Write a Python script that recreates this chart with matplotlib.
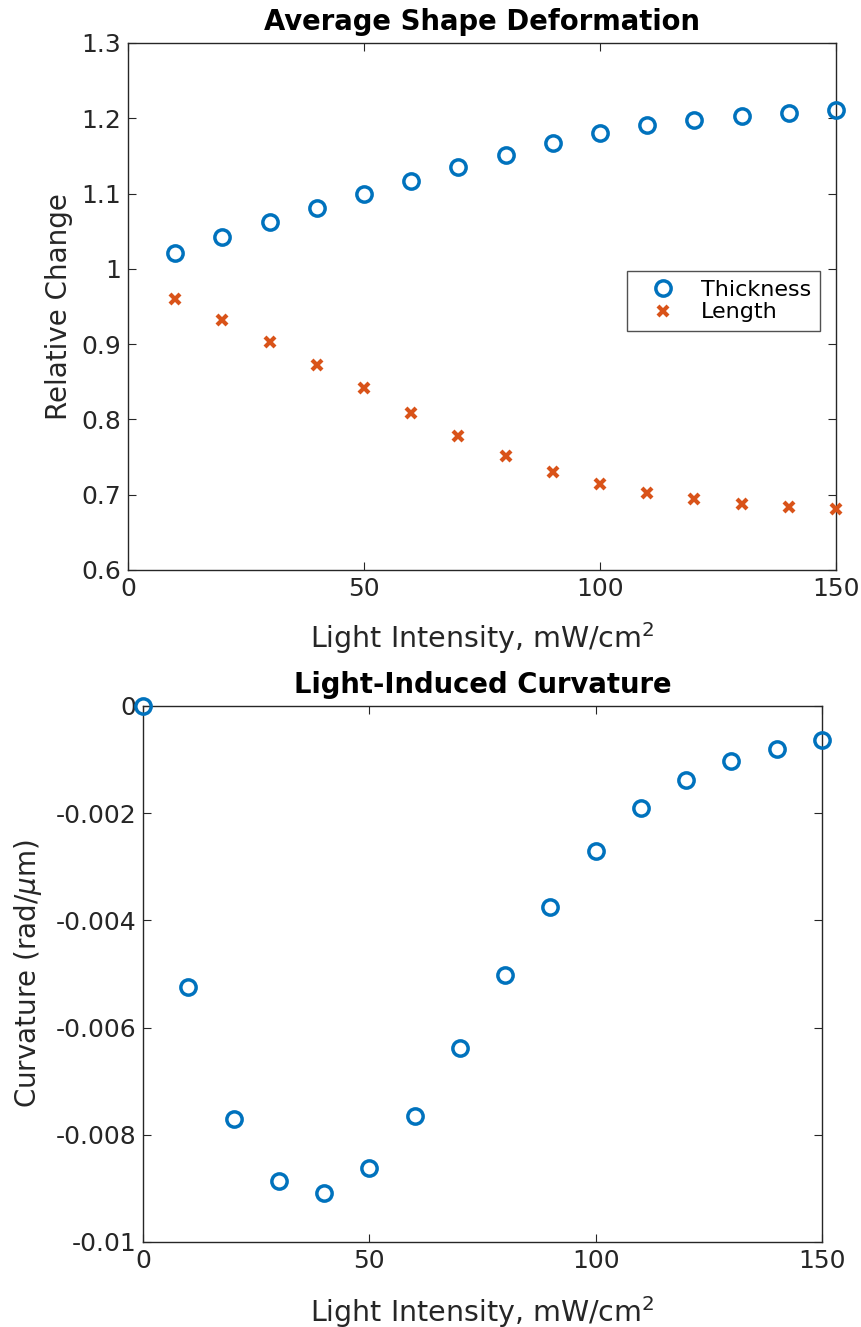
import matplotlib
matplotlib.use("Agg")
import matplotlib.pyplot as plt

# data
intensity = [10, 20, 30, 40, 50, 60, 70, 80, 90, 100, 110, 120, 130, 140, 150]
thickness = [1.021, 1.042, 1.062, 1.081, 1.099, 1.117, 1.135, 1.151, 1.167,
             1.180, 1.191, 1.198, 1.203, 1.207, 1.211]
length = [0.960, 0.932, 0.903, 0.872, 0.842, 0.809, 0.778, 0.752, 0.730,
          0.714, 0.702, 0.694, 0.688, 0.684, 0.681]

curv_intensity = [0, 10, 20, 30, 40, 50, 60, 70, 80, 90, 100, 110, 120, 130, 140, 150]
curvature = [0.0, -0.00524, -0.00771, -0.00886, -0.00909, -0.00862, -0.00765,
             -0.00638, -0.00502, -0.00375, -0.00271, -0.00190, -0.00138,
             -0.00103, -0.00080, -0.00063]

blue = "#0072BD"
orange = "#D95319"
dark = "#262626"

plt.rcParams['font.family'] = ['DejaVu Sans']
plt.rcParams['font.size'] = 18
plt.rcParams['mathtext.fontset'] = 'dejavusans'

fig = plt.figure(figsize=(8.62, 13.27), dpi=100)
ax1 = fig.add_axes([0.1485, 0.5705, 0.8213, 0.3971])
ax2 = fig.add_axes([0.1659, 0.0641, 0.7877, 0.4039])


def style(ax):
    for s in ax.spines.values():
        s.set_color(dark)
        s.set_linewidth(1.0)
    ax.tick_params(direction='in', top=True, right=True, length=6,
                   colors=dark, labelsize=18, pad=5)


ax1.plot(intensity, thickness, 'o', ms=11, mfc='none', mec=blue, mew=2.5,
         clip_on=False, label='Thickness', zorder=3)
ax1.plot(intensity, length, 'x', ms=7, mec=orange, mew=3,
         clip_on=False, label='Length', zorder=3)
ax1.set_xlim(0, 150)
ax1.set_ylim(0.6, 1.3)
ax1.set_xticks([0, 50, 100, 150])
ax1.set_yticks([0.6, 0.7, 0.8, 0.9, 1.0, 1.1, 1.2, 1.3])
ax1.set_yticklabels(['0.6', '0.7', '0.8', '0.9', '1', '1.1', '1.2', '1.3'])
ax1.set_title('Average Shape Deformation', fontweight='bold', fontsize=19.8, pad=9)
ax1.set_xlabel('Light Intensity, mW/cm$^2$', color=dark, fontsize=20.5, labelpad=14)
ax1.set_ylabel('Relative Change', color=dark, fontsize=20, labelpad=6)
style(ax1)
leg = ax1.legend(loc='center right', bbox_to_anchor=(0.977, 0.51), fontsize=16,
                 frameon=True, fancybox=False, edgecolor=dark, borderpad=0.4,
                 labelspacing=0.1, handlelength=2.4, handletextpad=0.5,
                 borderaxespad=0)
leg.get_frame().set_linewidth(1.0)

ax2.plot(curv_intensity, curvature, 'o', ms=11, mfc='none', mec=blue, mew=2.5,
         clip_on=False, zorder=3)
ax2.set_xlim(0, 150)
ax2.set_ylim(-0.01, 0)
ax2.set_xticks([0, 50, 100, 150])
ax2.set_yticks([-0.01, -0.008, -0.006, -0.004, -0.002, 0])
ax2.set_yticklabels(['-0.01', '-0.008', '-0.006', '-0.004', '-0.002', '0'])
ax2.set_title('Light-Induced Curvature', fontweight='bold', fontsize=19.8, pad=9)
ax2.set_xlabel('Light Intensity, mW/cm$^2$', color=dark, fontsize=20.5, labelpad=15)
ax2.set_ylabel('Curvature (rad/$\\mu$m)', color=dark, fontsize=20, labelpad=8)
style(ax2)

fig.savefig('out.png', dpi=100)
